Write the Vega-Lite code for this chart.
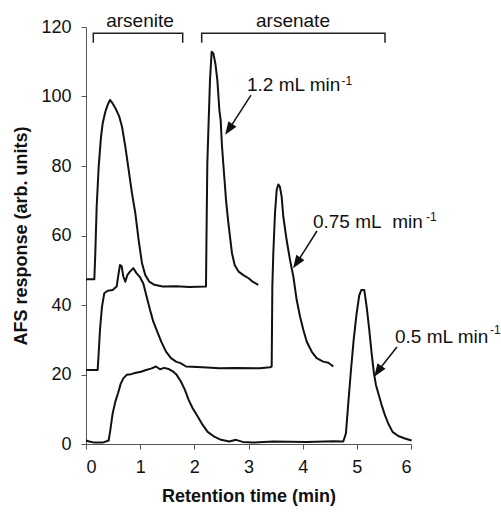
{
  "$schema": "https://vega.github.io/schema/vega-lite/v6.json",
  "width": 325,
  "height": 417,
  "autosize": {"type": "none"},
  "padding": {"left": 86, "top": 27, "right": 90, "bottom": 70},
  "background": "white",
  "config": {
    "view": {"stroke": null},
    "font": "Liberation Sans",
    "axis": {
      "domainColor": "#555555",
      "tickColor": "#555555",
      "tickSize": 5,
      "grid": false,
      "labelFont": "Liberation Sans",
      "labelFontSize": 18,
      "labelColor": "#111111",
      "titleFont": "Liberation Sans",
      "titleFontSize": 18,
      "titleFontWeight": "bold",
      "titleColor": "#111111"
    }
  },
  "datasets": {
    "traces": [
      {"flow": "1.2", "t": 0, "r": 47.4}, {"flow": "1.2", "t": 0.154, "r": 47.4}, {"flow": "1.2", "t": 0.172, "r": 54.9}, {"flow": "1.2", "t": 0.197, "r": 68.3}, {"flow": "1.2", "t": 0.234, "r": 79.8}, {"flow": "1.2", "t": 0.277, "r": 88.4}, {"flow": "1.2", "t": 0.308, "r": 92.3}, {"flow": "1.2", "t": 0.357, "r": 95.6}, {"flow": "1.2", "t": 0.4, "r": 97.6}, {"flow": "1.2", "t": 0.443, "r": 99.0}, {"flow": "1.2", "t": 0.492, "r": 98.0}, {"flow": "1.2", "t": 0.554, "r": 96.3}, {"flow": "1.2", "t": 0.615, "r": 94.2}, {"flow": "1.2", "t": 0.665, "r": 91.3}, {"flow": "1.2", "t": 0.726, "r": 85.6}, {"flow": "1.2", "t": 0.788, "r": 78.8}, {"flow": "1.2", "t": 0.849, "r": 72.1}, {"flow": "1.2", "t": 0.911, "r": 66.4}, {"flow": "1.2", "t": 0.972, "r": 58.7}, {"flow": "1.2", "t": 1.034, "r": 52.0}, {"flow": "1.2", "t": 1.095, "r": 48.6}, {"flow": "1.2", "t": 1.169, "r": 46.7}, {"flow": "1.2", "t": 1.262, "r": 45.8}, {"flow": "1.2", "t": 1.415, "r": 45.3}, {"flow": "1.2", "t": 1.662, "r": 45.4}, {"flow": "1.2", "t": 1.908, "r": 45.2}, {"flow": "1.2", "t": 2.215, "r": 45.3}, {"flow": "1.2", "t": 2.228, "r": 64.5}, {"flow": "1.2", "t": 2.24, "r": 80.8}, {"flow": "1.2", "t": 2.265, "r": 93.2}, {"flow": "1.2", "t": 2.289, "r": 104.7}, {"flow": "1.2", "t": 2.32, "r": 112.9}, {"flow": "1.2", "t": 2.351, "r": 112.4}, {"flow": "1.2", "t": 2.388, "r": 109.5}, {"flow": "1.2", "t": 2.425, "r": 104.7}, {"flow": "1.2", "t": 2.462, "r": 96.1}, {"flow": "1.2", "t": 2.486, "r": 93.2}, {"flow": "1.2", "t": 2.511, "r": 85.6}, {"flow": "1.2", "t": 2.548, "r": 77.9}, {"flow": "1.2", "t": 2.585, "r": 70.2}, {"flow": "1.2", "t": 2.622, "r": 64.5}, {"flow": "1.2", "t": 2.658, "r": 59.7}, {"flow": "1.2", "t": 2.695, "r": 54.9}, {"flow": "1.2", "t": 2.745, "r": 51.5}, {"flow": "1.2", "t": 2.818, "r": 49.6}, {"flow": "1.2", "t": 2.905, "r": 48.6}, {"flow": "1.2", "t": 3.003, "r": 47.7}, {"flow": "1.2", "t": 3.077, "r": 46.7}, {"flow": "1.2", "t": 3.18, "r": 45.8},
      {"flow": "0.75", "t": 0, "r": 21.3}, {"flow": "0.75", "t": 0.215, "r": 21.3}, {"flow": "0.75", "t": 0.234, "r": 26.1}, {"flow": "0.75", "t": 0.258, "r": 32.8}, {"flow": "0.75", "t": 0.295, "r": 39.5}, {"flow": "0.75", "t": 0.338, "r": 43.4}, {"flow": "0.75", "t": 0.4, "r": 44.1}, {"flow": "0.75", "t": 0.492, "r": 44.3}, {"flow": "0.75", "t": 0.566, "r": 45.3}, {"flow": "0.75", "t": 0.597, "r": 48.6}, {"flow": "0.75", "t": 0.628, "r": 51.5}, {"flow": "0.75", "t": 0.658, "r": 51.2}, {"flow": "0.75", "t": 0.689, "r": 48.2}, {"flow": "0.75", "t": 0.726, "r": 46.7}, {"flow": "0.75", "t": 0.763, "r": 48.6}, {"flow": "0.75", "t": 0.812, "r": 49.6}, {"flow": "0.75", "t": 0.874, "r": 50.6}, {"flow": "0.75", "t": 0.935, "r": 49.1}, {"flow": "0.75", "t": 0.997, "r": 48.0}, {"flow": "0.75", "t": 1.058, "r": 46.2}, {"flow": "0.75", "t": 1.12, "r": 42.4}, {"flow": "0.75", "t": 1.182, "r": 38.6}, {"flow": "0.75", "t": 1.243, "r": 35.2}, {"flow": "0.75", "t": 1.317, "r": 32.3}, {"flow": "0.75", "t": 1.391, "r": 29.4}, {"flow": "0.75", "t": 1.477, "r": 26.6}, {"flow": "0.75", "t": 1.569, "r": 24.7}, {"flow": "0.75", "t": 1.662, "r": 23.7}, {"flow": "0.75", "t": 1.754, "r": 23.2}, {"flow": "0.75", "t": 1.846, "r": 22.3}, {"flow": "0.75", "t": 2.154, "r": 22.1}, {"flow": "0.75", "t": 2.462, "r": 21.8}, {"flow": "0.75", "t": 2.769, "r": 21.9}, {"flow": "0.75", "t": 3.212, "r": 21.8}, {"flow": "0.75", "t": 3.397, "r": 22.1}, {"flow": "0.75", "t": 3.428, "r": 22.3}, {"flow": "0.75", "t": 3.44, "r": 45.3}, {"flow": "0.75", "t": 3.458, "r": 54.9}, {"flow": "0.75", "t": 3.489, "r": 66.4}, {"flow": "0.75", "t": 3.52, "r": 73.1}, {"flow": "0.75", "t": 3.55, "r": 74.7}, {"flow": "0.75", "t": 3.58, "r": 74.0}, {"flow": "0.75", "t": 3.612, "r": 71.2}, {"flow": "0.75", "t": 3.643, "r": 65.4}, {"flow": "0.75", "t": 3.704, "r": 58.7}, {"flow": "0.75", "t": 3.766, "r": 53.0}, {"flow": "0.75", "t": 3.828, "r": 48.2}, {"flow": "0.75", "t": 3.889, "r": 41.5}, {"flow": "0.75", "t": 3.951, "r": 36.7}, {"flow": "0.75", "t": 4.012, "r": 32.9}, {"flow": "0.75", "t": 4.074, "r": 29.5}, {"flow": "0.75", "t": 4.166, "r": 26.6}, {"flow": "0.75", "t": 4.258, "r": 24.7}, {"flow": "0.75", "t": 4.38, "r": 23.7}, {"flow": "0.75", "t": 4.474, "r": 23.4}, {"flow": "0.75", "t": 4.566, "r": 22.3},
      {"flow": "0.5", "t": 0, "r": 1.0}, {"flow": "0.5", "t": 0.062, "r": 0.7}, {"flow": "0.5", "t": 0.154, "r": 0.4}, {"flow": "0.5", "t": 0.308, "r": 0.4}, {"flow": "0.5", "t": 0.418, "r": 1.0}, {"flow": "0.5", "t": 0.449, "r": 4.0}, {"flow": "0.5", "t": 0.492, "r": 8.8}, {"flow": "0.5", "t": 0.542, "r": 12.2}, {"flow": "0.5", "t": 0.591, "r": 14.6}, {"flow": "0.5", "t": 0.64, "r": 17.3}, {"flow": "0.5", "t": 0.689, "r": 18.9}, {"flow": "0.5", "t": 0.751, "r": 19.9}, {"flow": "0.5", "t": 0.831, "r": 20.1}, {"flow": "0.5", "t": 0.923, "r": 20.5}, {"flow": "0.5", "t": 1.015, "r": 20.8}, {"flow": "0.5", "t": 1.108, "r": 21.3}, {"flow": "0.5", "t": 1.2, "r": 21.7}, {"flow": "0.5", "t": 1.292, "r": 22.3}, {"flow": "0.5", "t": 1.366, "r": 21.5}, {"flow": "0.5", "t": 1.446, "r": 21.9}, {"flow": "0.5", "t": 1.538, "r": 21.5}, {"flow": "0.5", "t": 1.612, "r": 20.8}, {"flow": "0.5", "t": 1.674, "r": 19.9}, {"flow": "0.5", "t": 1.754, "r": 17.9}, {"flow": "0.5", "t": 1.828, "r": 15.5}, {"flow": "0.5", "t": 1.895, "r": 12.7}, {"flow": "0.5", "t": 1.969, "r": 10.3}, {"flow": "0.5", "t": 2.062, "r": 7.9}, {"flow": "0.5", "t": 2.154, "r": 5.5}, {"flow": "0.5", "t": 2.246, "r": 3.5}, {"flow": "0.5", "t": 2.369, "r": 2.1}, {"flow": "0.5", "t": 2.492, "r": 1.2}, {"flow": "0.5", "t": 2.646, "r": 0.7}, {"flow": "0.5", "t": 2.769, "r": 1.2}, {"flow": "0.5", "t": 2.892, "r": 0.6}, {"flow": "0.5", "t": 3.077, "r": 0.4}, {"flow": "0.5", "t": 3.458, "r": 0.7}, {"flow": "0.5", "t": 4.074, "r": 0.6}, {"flow": "0.5", "t": 4.566, "r": 0.8}, {"flow": "0.5", "t": 4.75, "r": 0.7}, {"flow": "0.5", "t": 4.799, "r": 3.1}, {"flow": "0.5", "t": 4.842, "r": 11.7}, {"flow": "0.5", "t": 4.892, "r": 21.3}, {"flow": "0.5", "t": 4.941, "r": 29.9}, {"flow": "0.5", "t": 4.996, "r": 37.6}, {"flow": "0.5", "t": 5.045, "r": 42.8}, {"flow": "0.5", "t": 5.082, "r": 44.3}, {"flow": "0.5", "t": 5.138, "r": 44.3}, {"flow": "0.5", "t": 5.181, "r": 39.5}, {"flow": "0.5", "t": 5.23, "r": 32.8}, {"flow": "0.5", "t": 5.273, "r": 26.1}, {"flow": "0.5", "t": 5.316, "r": 20.3}, {"flow": "0.5", "t": 5.353, "r": 17.0}, {"flow": "0.5", "t": 5.396, "r": 14.6}, {"flow": "0.5", "t": 5.458, "r": 11.2}, {"flow": "0.5", "t": 5.519, "r": 8.3}, {"flow": "0.5", "t": 5.58, "r": 5.9}, {"flow": "0.5", "t": 5.66, "r": 3.5}, {"flow": "0.5", "t": 5.765, "r": 2.3}, {"flow": "0.5", "t": 5.888, "r": 1.6}, {"flow": "0.5", "t": 6.011, "r": 1.0}
    ],
    "brackets": [
      {"name": "arsenite", "k": 0, "t": 0.135, "r": 115.5}, {"name": "arsenite", "k": 1, "t": 0.135, "r": 118.2}, {"name": "arsenite", "k": 2, "t": 1.785, "r": 118.2}, {"name": "arsenite", "k": 3, "t": 1.785, "r": 115.5},
      {"name": "arsenate", "k": 0, "t": 2.136, "r": 115.5}, {"name": "arsenate", "k": 1, "t": 2.136, "r": 118.2}, {"name": "arsenate", "k": 2, "t": 5.52, "r": 118.2}, {"name": "arsenate", "k": 3, "t": 5.52, "r": 115.5}
    ],
    "species": [
      {"label": "arsenite", "t": 0.997, "r": 120.0},
      {"label": "arsenate", "t": 3.821, "r": 120.0}
    ],
    "flowLabels": [
      {"label": "1.2 mL min", "t": 2.972, "r": 101.6, "sup": "-1", "ts": 4.717, "rs": 103.4},
      {"label": "0.75 mL\u00a0 min", "t": 4.19, "r": 62.2, "sup": "-1", "ts": 6.277, "rs": 64.2},
      {"label": "0.5 mL min", "t": 5.704, "r": 29.15, "sup": "-1", "ts": 7.458, "rs": 31.7}
    ],
    "arrows": [
      {"t": 3.046, "r": 100.4, "th": 2.653, "rh": 90.9},
      {"t": 4.264, "r": 61.3, "th": 3.907, "rh": 52.5},
      {"t": 5.741, "r": 27.9, "th": 5.405, "rh": 21.3}
    ]
  },
  "layer": [
    {
      "data": {"name": "traces"},
      "mark": {"type": "line", "color": "#111111", "strokeWidth": 2, "strokeJoin": "round"},
      "encoding": {
        "x": {"field": "t", "type": "quantitative", "scale": {"domain": [0, 6], "nice": false}, "axis": {"values": [0, 1, 2, 3, 4, 5, 6], "format": "d", "title": "Retention time (min)", "labelPadding": 9, "titlePadding": 11}},
        "y": {"field": "r", "type": "quantitative", "scale": {"domain": [0, 120], "nice": false}, "axis": {"values": [0, 20, 40, 60, 80, 100, 120], "format": "d", "title": "AFS response (arb. units)", "labelPadding": 10, "titlePadding": 10}},
        "detail": {"field": "flow"}
      }
    },
    {
      "data": {"name": "brackets"},
      "mark": {"type": "line", "color": "#222222", "strokeWidth": 1.5},
      "encoding": {
        "x": {"field": "t", "type": "quantitative"},
        "y": {"field": "r", "type": "quantitative"},
        "detail": {"field": "name"},
        "order": {"field": "k"}
      }
    },
    {
      "data": {"name": "species"},
      "mark": {"type": "text", "fontSize": 19, "align": "center", "baseline": "alphabetic", "color": "#111111"},
      "encoding": {
        "x": {"field": "t", "type": "quantitative"},
        "y": {"field": "r", "type": "quantitative"},
        "text": {"field": "label"}
      }
    },
    {
      "data": {"name": "flowLabels"},
      "mark": {"type": "text", "fontSize": 19, "align": "left", "baseline": "alphabetic", "color": "#111111"},
      "encoding": {
        "x": {"field": "t", "type": "quantitative"},
        "y": {"field": "r", "type": "quantitative"},
        "text": {"field": "label"}
      }
    },
    {
      "data": {"name": "flowLabels"},
      "mark": {"type": "text", "fontSize": 12, "align": "left", "baseline": "alphabetic", "color": "#111111"},
      "encoding": {
        "x": {"field": "ts", "type": "quantitative"},
        "y": {"field": "rs", "type": "quantitative"},
        "text": {"field": "sup"}
      }
    },
    {
      "data": {"name": "arrows"},
      "mark": {"type": "rule", "color": "#111111", "strokeWidth": 1.5},
      "encoding": {
        "x": {"field": "t", "type": "quantitative"},
        "y": {"field": "r", "type": "quantitative"},
        "x2": {"field": "th"},
        "y2": {"field": "rh"}
      }
    },
    {
      "data": {"name": "arrows"},
      "mark": {"type": "point", "shape": "M0,-1L0.6,0.6L-0.6,0.6Z", "filled": true, "color": "#111111", "opacity": 1, "size": 264, "angle": 214},
      "encoding": {
        "x": {"field": "th", "type": "quantitative"},
        "y": {"field": "rh", "type": "quantitative"}
      }
    }
  ]
}
